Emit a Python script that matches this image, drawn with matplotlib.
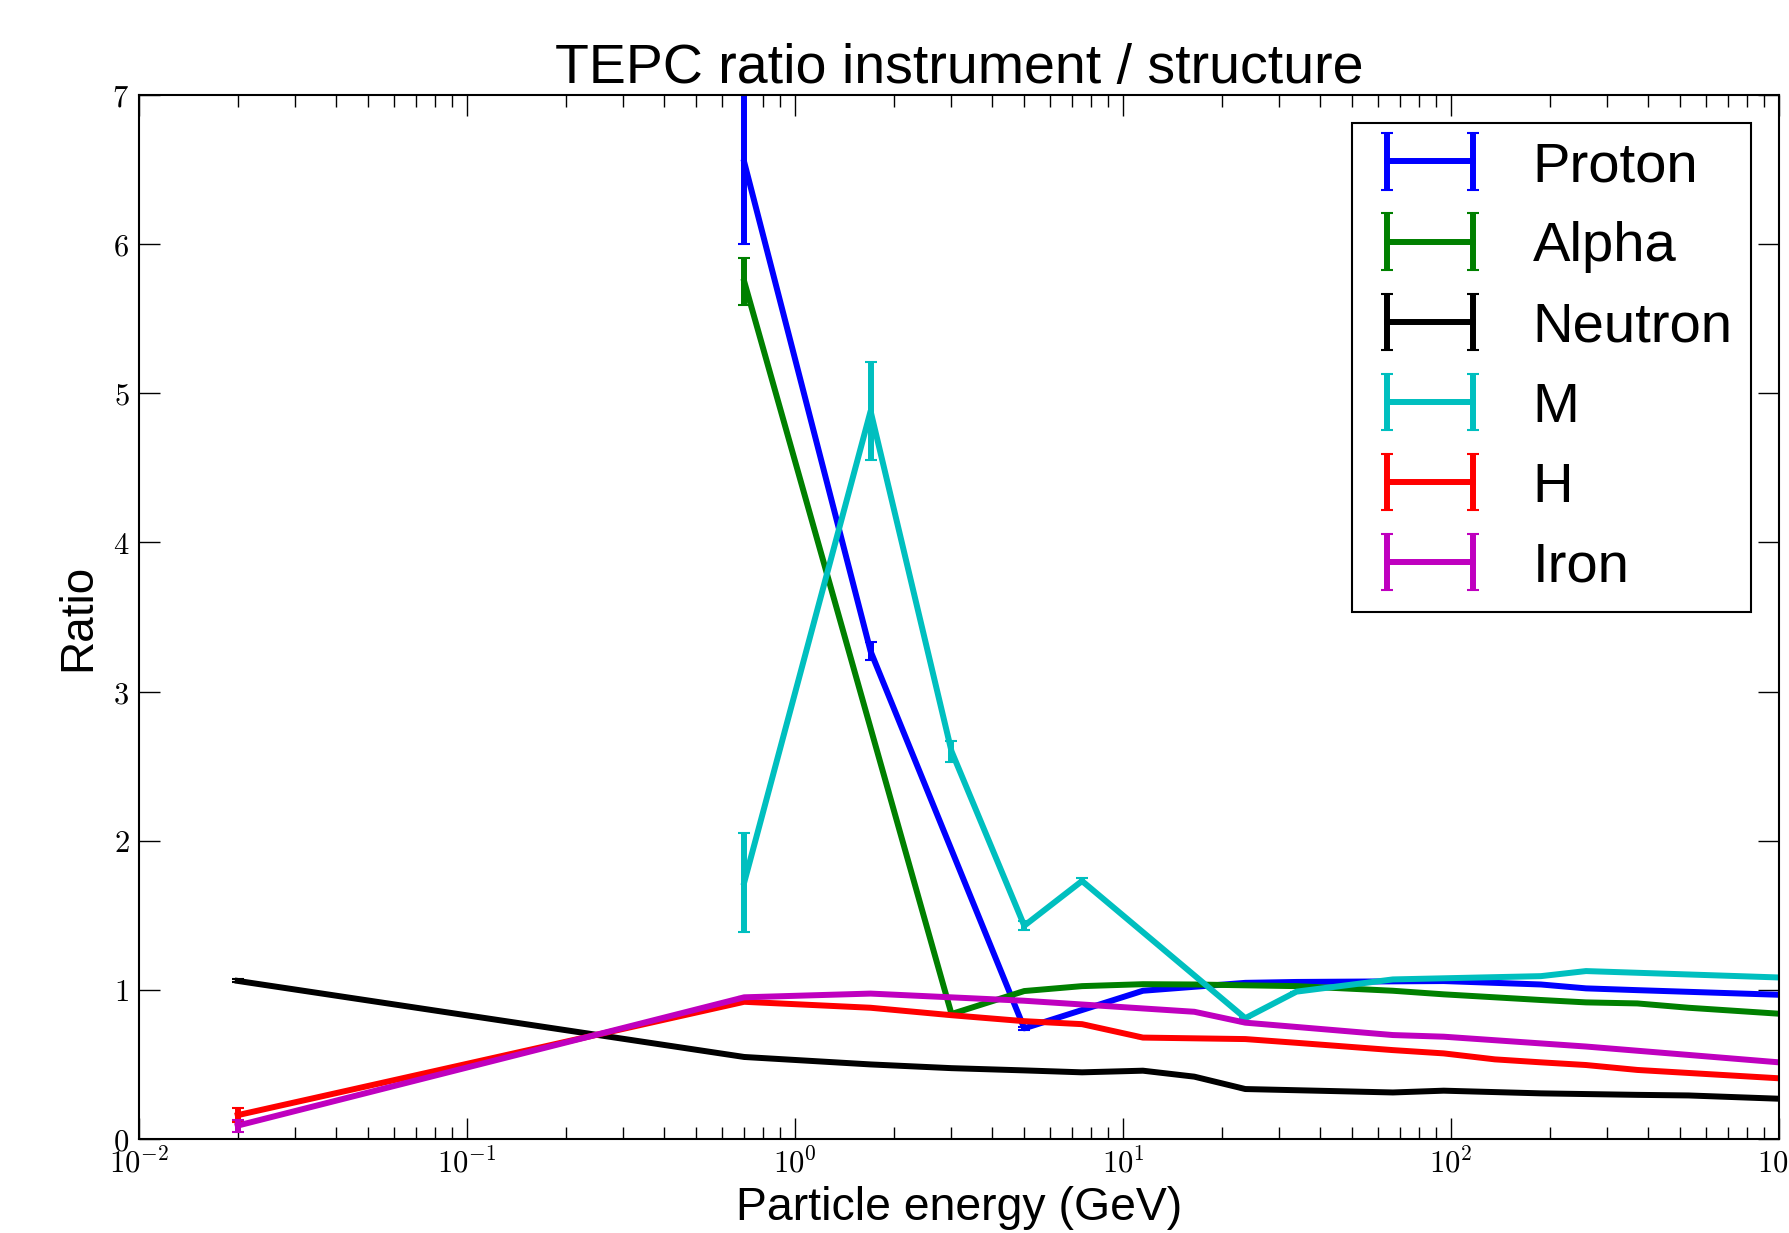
import matplotlib
matplotlib.use('Agg')
import matplotlib.pyplot as plt
from matplotlib.ticker import FuncFormatter
import numpy as np

plt.rcParams['font.family'] = ['Liberation Sans', 'DejaVu Sans']
plt.rcParams['mathtext.fontset'] = 'cm'
plt.rcParams['mathtext.default'] = 'rm'

# energies (GeV) and ratios per particle
proton_x = [0.7, 1.7, 5.0, 11.5, 23.6, 33.8, 95, 188, 258, 370, 1000]
proton_y = [6.55, 3.27, 0.742, 0.994, 1.047, 1.053, 1.059, 1.036, 1.01, 0.998, 0.967]
proton_err = [0.55, 0.06, 0.01, 0, 0, 0, 0, 0, 0, 0, 0]

alpha_x = [0.7, 3.0, 5.0, 7.5, 11.5, 16.5, 33.8, 66.5, 95, 188, 258, 370, 530, 1000]
alpha_y = [5.75, 0.838, 0.992, 1.025, 1.038, 1.036, 1.025, 0.994, 0.97, 0.932, 0.916, 0.909, 0.88, 0.84]
alpha_err = [0.16, 0.01, 0, 0, 0, 0, 0, 0, 0, 0, 0, 0, 0, 0]

neutron_x = [0.02, 0.7, 1.7, 3.0, 5.0, 7.5, 11.5, 16.5, 23.6, 66.5, 95, 188, 370, 530, 1000]
neutron_y = [1.06, 0.55, 0.50, 0.475, 0.46, 0.447, 0.458, 0.418, 0.335, 0.312, 0.324, 0.306, 0.296, 0.292, 0.27]
neutron_err = [0.01, 0, 0, 0, 0, 0, 0, 0, 0, 0, 0, 0, 0, 0, 0]

m_x = [0.7, 1.7, 3.0, 5.0, 7.5, 23.6, 33.8, 66.5, 188, 258, 1000]
m_y = [1.72, 4.88, 2.6, 1.43, 1.73, 0.81, 0.988, 1.07, 1.092, 1.126, 1.083]
m_err = [0.33, 0.33, 0.07, 0.03, 0.02, 0, 0, 0, 0, 0, 0]

h_x = [0.02, 0.7, 1.7, 3.0, 5.0, 7.5, 11.5, 23.6, 33.8, 66.5, 95, 136, 188, 258, 370, 1000]
h_y = [0.16, 0.92, 0.88, 0.83, 0.79, 0.77, 0.68, 0.67, 0.645, 0.596, 0.574, 0.534, 0.514, 0.496, 0.463, 0.407]
h_err = [0.045, 0, 0, 0, 0, 0, 0, 0, 0, 0, 0, 0, 0, 0, 0, 0]

iron_x = [0.02, 0.7, 1.7, 5.0, 16.5, 23.6, 66.5, 95, 258, 1000]
iron_y = [0.09, 0.95, 0.975, 0.927, 0.853, 0.78, 0.697, 0.686, 0.62, 0.514]
iron_err = [0.04, 0, 0, 0, 0, 0, 0, 0, 0, 0]

series = [
    ('Proton', 'b', proton_x, proton_y, proton_err),
    ('Alpha', 'g', alpha_x, alpha_y, alpha_err),
    ('Neutron', 'k', neutron_x, neutron_y, neutron_err),
    ('M', 'c', m_x, m_y, m_err),
    ('H', 'r', h_x, h_y, h_err),
    ('Iron', 'm', iron_x, iron_y, iron_err),
]

fig = plt.figure(figsize=(17.9, 12.33), dpi=100)
ax = fig.add_axes([139 / 1790, 1 - 1139 / 1233, (1779 - 139) / 1790, (1139 - 95) / 1233])

for name, col, x, y, e in series:
    ax.errorbar(x, y, yerr=e, color=col, lw=4.3, elinewidth=4.3,
                capsize=4.5, capthick=1.5, label=name)

ax.set_xscale('log')
ax.set_xlim(0.01, 1000)
ax.set_ylim(0, 7)

# computer-modern tick labels like the original latex output
ax.xaxis.set_major_formatter(FuncFormatter(lambda v, p: '$10^{%d}$' % round(np.log10(v))))
ax.yaxis.set_major_formatter(FuncFormatter(lambda v, p: '$%d$' % round(v)))

ax.tick_params(which='both', direction='in', top=True, right=True,
               labelsize=22, pad=7)
ax.tick_params(which='major', length=15, width=1)
ax.tick_params(which='minor', length=8.5, width=1)
for sp in ax.spines.values():
    sp.set_linewidth(1.5)

ax.set_title('TEPC ratio instrument / structure', fontsize=40, pad=6)
ax.set_xlabel('Particle energy (GeV)', fontsize=33.4, labelpad=4)
ax.set_ylabel('Ratio', fontsize=33, labelpad=9)

leg = ax.legend(loc='upper right', fontsize=40.5, numpoints=2, handlelength=2.13,
                handletextpad=0.77, labelspacing=0.5, borderaxespad=0.5,
                borderpad=0.32, fancybox=False, framealpha=1)
leg.get_frame().set_edgecolor('black')
leg.get_frame().set_linewidth(1.5)

fig.savefig('out.png', dpi=100)
